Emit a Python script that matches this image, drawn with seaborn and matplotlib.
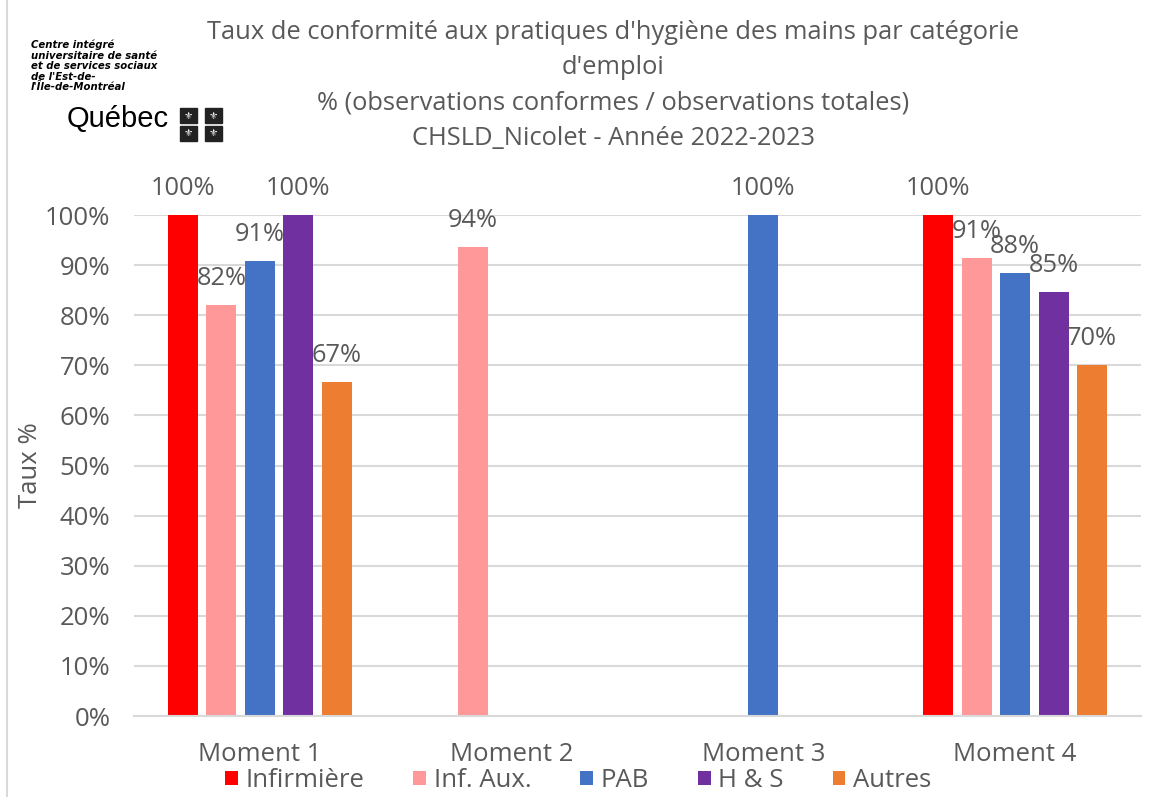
import numpy as np
import pandas as pd
import matplotlib
matplotlib.use("Agg")
import matplotlib.pyplot as plt
import seaborn as sns
from matplotlib.patches import Rectangle
from matplotlib.lines import Line2D

# taux de conformité par moment et par catégorie d'emploi (NaN = pas d'observation)
moments = ["Moment 1", "Moment 2", "Moment 3", "Moment 4"]
categories = ["Infirmière", "Inf. Aux.", "PAB", "H & S", "Autres"]
infirmiere = [1.00, np.nan, np.nan, 1.00]
inf_aux = [0.82, 0.936, np.nan, 0.914]
pab = [0.908, np.nan, 1.00, 0.884]
hs = [1.00, np.nan, np.nan, 0.846]
autres = [0.667, np.nan, np.nan, 0.70]
couleurs = ["#FF0000", "#FF9999", "#4472C4", "#7030A0", "#ED7D31"]

gris = "#595959"

sns.set_theme(style="white")
plt.rcParams["font.family"] = ["Open Sans", "DejaVu Sans"]

df = pd.DataFrame({
    "moment": moments * 5,
    "categorie": np.repeat(categories, 4),
    "taux": infirmiere + inf_aux + pab + hs + autres,
})

fig = plt.figure(figsize=(11.51, 7.97), dpi=100)
ax = fig.add_axes([0.1164, 0.1016, 0.8749, 0.6286])

sns.barplot(data=df, x="moment", y="taux", hue="categorie", order=moments,
            hue_order=categories, palette=couleurs, errorbar=None,
            width=0.764, gap=0.22, saturation=1, linewidth=0, ax=ax, legend=True)

ax.set_ylim(0, 1)
ax.set_xlim(-0.5, 3.5)
ax.set_yticks(np.arange(0, 1.01, 0.1))
ax.set_yticklabels([f"{int(round(v * 100))}%" for v in np.arange(0, 1.01, 0.1)])
ax.yaxis.grid(True, color="#d9d9d9", linewidth=1.5)
ax.set_axisbelow(True)
for s in ["top", "right", "left"]:
    ax.spines[s].set_visible(False)
ax.spines["bottom"].set_color("#d9d9d9")
ax.spines["bottom"].set_linewidth(1.5)
ax.tick_params(axis="both", colors=gris, labelsize=18.5, length=0)
ax.tick_params(axis="y", pad=17)
ax.tick_params(axis="x", pad=19)
ax.set_xlabel("")
ax.set_ylabel("Taux %", fontsize=18.5, color=gris, va="center")
ax.yaxis.set_label_coords(-0.103, 0.5)

# étiquettes de données
for p in ax.patches:
    h = p.get_height()
    if np.isnan(h) or h == 0:
        continue
    ax.annotate(f"{h:.0%}", (p.get_x() + p.get_width() / 2, h),
                xytext=(0, 19), textcoords="offset points", ha="center",
                va="center", fontsize=18.3, color=gris, annotation_clip=False)

leg = ax.legend(loc="center", bbox_to_anchor=(0.441, -0.129), ncol=5,
                frameon=False, fontsize=18.5, handlelength=0.5, handleheight=0.5,
                handletextpad=0.3, columnspacing=1.9, labelcolor=gris,
                borderaxespad=0)

titre = ["Taux de conformité aux pratiques d'hygiène des mains par catégorie",
         "d'emploi",
         "% (observations conformes / observations totales)",
         "CHSLD_Nicolet - Année 2022-2023"]
for i, t in enumerate(titre):
    fig.text(0.533, 0.959 - i * 0.0442, t, ha="center", va="center",
             fontsize=18.4, color=gris)

# logo
logo = ["Centre intégré", "universitaire de santé", "et de services sociaux",
        "de l'Est-de-", "l'Île-de-Montréal"]
for i, t in enumerate(logo):
    fig.text(0.027, 0.9435 - i * 0.0132, t, ha="left", va="center", fontsize=7.3,
             fontweight="bold", style="italic", color="black", family=["DejaVu Sans"])
fig.text(0.058, 0.8407, "Québec", ha="left", va="baseline", fontsize=21,
         color="black", family=["Liberation Sans"])
for cx, cy in [(0.1638, 0.855), (0.1855, 0.855), (0.1638, 0.8325), (0.1855, 0.8325)]:
    fig.patches.append(Rectangle((cx - 0.007, cy - 0.0094), 0.014, 0.0188,
                                 transform=fig.transFigure, color="#222222"))
    fig.text(cx, cy, "⚜", ha="center", va="center", fontsize=7.5, color="white",
             family=["DejaVu Sans"])

fig.lines.append(Line2D([0.006, 0.006], [0, 1], transform=fig.transFigure,
                        color="#d9d9d9", linewidth=1.5))

fig.savefig("out.png", dpi=100)
